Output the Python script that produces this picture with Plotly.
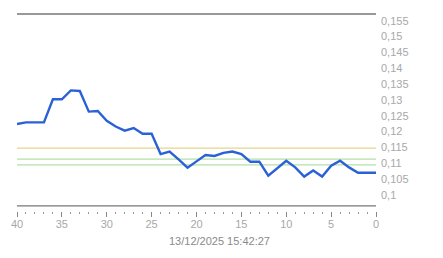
import plotly.graph_objects as go

x_vals = list(range(40, -1, -1))
y_vals = [0.1224, 0.1229, 0.1229, 0.1229, 0.1302, 0.1302, 0.1330, 0.1328, 0.1263, 0.1265,
          0.1234, 0.1216, 0.1203, 0.1211, 0.1193, 0.1193, 0.1129, 0.1137, 0.1112, 0.1086,
          0.1106, 0.1126, 0.1123, 0.1133, 0.1137, 0.1129, 0.1105, 0.1105, 0.1061, 0.1085,
          0.1108, 0.1087, 0.1058, 0.1077, 0.1058, 0.1092, 0.1108, 0.1087, 0.1070, 0.1070,
          0.1070]
y_ticks = [0.1, 0.105, 0.11, 0.115, 0.12, 0.125, 0.13, 0.135, 0.14, 0.145, 0.15, 0.155]
ref_yellow = 0.11476
ref_green = [0.11128, 0.10948]
title_text = "13/12/2025 15:42:27"

fig = go.Figure()
fig.add_trace(go.Scatter(x=x_vals, y=y_vals, mode="lines",
                         line=dict(color="#2a62d6", width=2.4), hoverinfo="skip"))

fig.add_shape(type="line", xref="paper", yref="y", x0=0, x1=1, y0=ref_yellow, y1=ref_yellow,
              line=dict(color="#e8d58c", width=1.2), layer="below")
for g in ref_green:
    fig.add_shape(type="line", xref="paper", yref="y", x0=0, x1=1, y0=g, y1=g,
                  line=dict(color="#b4e0a8", width=1.2), layer="below")
# frame lines (top and bottom)
fig.add_shape(type="line", xref="paper", yref="paper", x0=0, x1=1, y0=1, y1=1,
              line=dict(color="#777777", width=1.3))
fig.add_shape(type="line", xref="paper", yref="paper", x0=0, x1=1, y0=0.026, y1=0.026,
              line=dict(color="#777777", width=1.3))

fig.add_annotation(text=title_text, xref="paper", yref="paper", x=0.5627, y=-0.15,
                   showarrow=False, xanchor="center", yanchor="middle",
                   font=dict(family="Liberation Sans, Arial", size=11, color="#8a8a8a"))

fig.update_layout(
    width=443, height=258,
    margin=dict(l=17, r=67, t=14, b=47),
    paper_bgcolor="white", plot_bgcolor="white",
    showlegend=False,
    separators=",.",
    font=dict(family="Liberation Sans, Arial", size=11, color="#a8a8a8"),
    xaxis=dict(range=[40, 0], showgrid=False, zeroline=False, showline=False,
               tickmode="linear", tick0=0, dtick=5, ticks="outside", ticklen=5,
               tickcolor="#888888", tickwidth=1, ticklabelstandoff=-2,
               minor=dict(tickmode="linear", tick0=0, dtick=1, ticks="outside", ticklen=2,
                          tickcolor="#999999", tickwidth=1),
               tickfont=dict(size=11, color="#a8a8a8")),
    yaxis=dict(range=[0.09494, 0.1571], side="right", showgrid=False, zeroline=False,
               showline=False, tickmode="array", tickvals=y_ticks, ticks="",
               ticklabelstandoff=4,
               tickfont=dict(size=11, color="#a8a8a8")),
)

fig.write_html("out.html")
